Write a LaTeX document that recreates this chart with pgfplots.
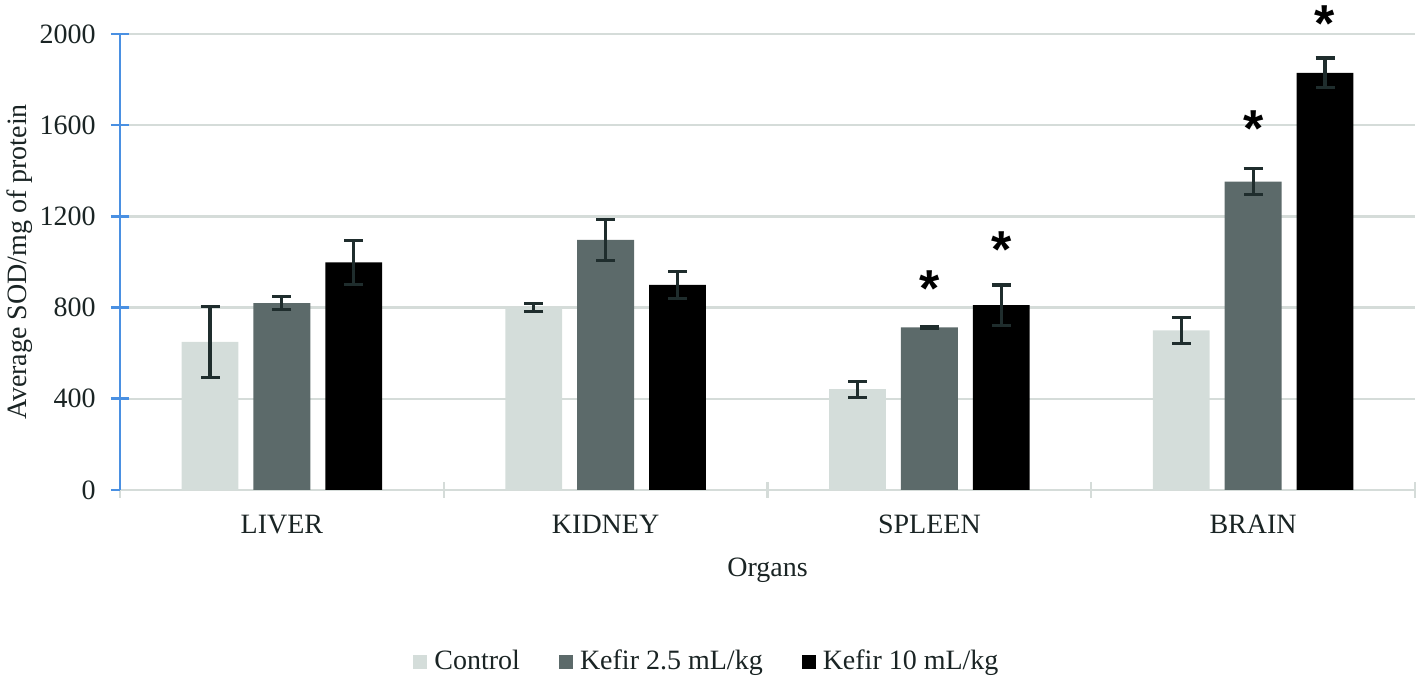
\documentclass[border=0pt]{standalone}
\usepackage{pgfplots}
\pgfplotsset{compat=1.18}
\usepackage{fontspec}
\setmainfont{Liberation Serif}
\newfontfamily\astfont{Liberation Sans}
\definecolor{gridgray}{HTML}{D5DCD9}
\definecolor{axisblue}{HTML}{4A90E2}
\definecolor{ctrl}{HTML}{D4DDDA}
\definecolor{kefa}{HTML}{5C6A6A}
\definecolor{kefb}{HTML}{000000}
\definecolor{errcol}{HTML}{1F2D2D}
\definecolor{textcol}{HTML}{1A2424}
\begin{document}
\fontsize{14}{17}\selectfont
\begin{tikzpicture}
\begin{axis}[
  width=647.5pt, height=228pt, scale only axis,
  xmin=-0.5, xmax=3.5, ymin=0, ymax=2000,
  clip=false,
  ybar, bar width=0.176,
  axis x line*=bottom, axis y line*=left,
  x axis line style={draw=gridgray, line width=1.2pt},
  y axis line style={draw=axisblue, line width=1.3pt},
  xtick={0,1,2,3},
  xticklabels={LIVER,KIDNEY,SPLEEN,BRAIN},
  minor xtick={-0.5,0.5,1.5,2.5,3.5},
  ytick={0,400,800,1200,1600,2000},
  /pgf/number format/assume math mode=true,
  /pgf/number format/1000 sep={},
  tick align=center,
  major tick length=9pt,
  minor tick length=8pt,
  major x tick style={draw=none},
  minor x tick style={draw=gridgray, line width=1.2pt},
  y tick style={draw=axisblue, line width=1.3pt},
  ymajorgrids,
  grid style={draw=gridgray, line width=1.2pt},
  tick label style={font=\fontsize{14}{17}\selectfont, text=textcol},
  xticklabel style={yshift=-3.3pt},
  yticklabel style={xshift=-2.8pt},
  label style={font=\fontsize{14}{17}\selectfont, text=textcol},
  xlabel={Organs},
  ylabel={Average SOD/mg of protein},
  xlabel style={at={(axis description cs:0.5,-0.1754)}, anchor=center},
  ylabel style={at={(axis description cs:-0.0772,0.5)}, anchor=center},
  legend style={at={(axis description cs:0.2263,-0.377)}, anchor=west,
    draw=none, fill=none, inner sep=0pt, legend columns=3,
    font=\fontsize{14}{17}\selectfont, text=textcol,
    /tikz/every odd column/.append style={column sep=1.5pt},
    /tikz/every even column/.append style={column sep=17.5pt}},
  legend image code/.code={\fill[#1] (0pt,-3.5pt) rectangle (7pt,3.5pt);},
  error bars/y dir=both, error bars/y explicit,
  error bars/error bar style={draw=errcol, line width=1.6pt},
  error bars/error mark options={draw=errcol, rotate=90, mark size=4.75pt, line width=1.6pt},
]
\addplot[fill=ctrl, draw=none, bar shift=-0.222] coordinates {
  (0,650) +- (0,155)
  (1,800) +- (0,18)
  (2,442) +- (0,35)
  (3,700) +- (0,58)
};
\addplot[fill=kefa, draw=none, bar shift=0] coordinates {
  (0,820) +- (0,28)
  (1,1097) +- (0,90)
  (2,713) +- (0,4)
  (3,1352) +- (0,57)
};
\addplot[fill=kefb, draw=none, bar shift=0.222] coordinates {
  (0,998) +- (0,98)
  (1,900) +- (0,60)
  (2,811) +- (0,88)
  (3,1830) +- (0,65)
};
\legend{Control, Kefir 2.5 mL/kg, Kefir 10 mL/kg}
% significance asterisks
\addplot[forget plot, draw=none, fill=none, bar shift=0,
  nodes near coords={\astfont\bfseries *},
  nodes near coords style={anchor=center, inner sep=0pt, font=\fontsize{26}{26}\selectfont, text=black}]
  coordinates {(2,882) (3,1584)};
\addplot[forget plot, draw=none, fill=none, bar shift=0.222,
  nodes near coords={\astfont\bfseries *},
  nodes near coords style={anchor=center, inner sep=0pt, font=\fontsize{26}{26}\selectfont, text=black}]
  coordinates {(2,1054) (3,2045)};
\coordinate (bl) at (rel axis cs:0,0);
\coordinate (tr) at (rel axis cs:1,1);
\end{axis}
\pgfresetboundingbox
\path[use as bounding box] ([xshift=-60pt,yshift=-94pt]bl) rectangle ([xshift=2pt,yshift=17pt]tr);
\end{tikzpicture}
\end{document}
